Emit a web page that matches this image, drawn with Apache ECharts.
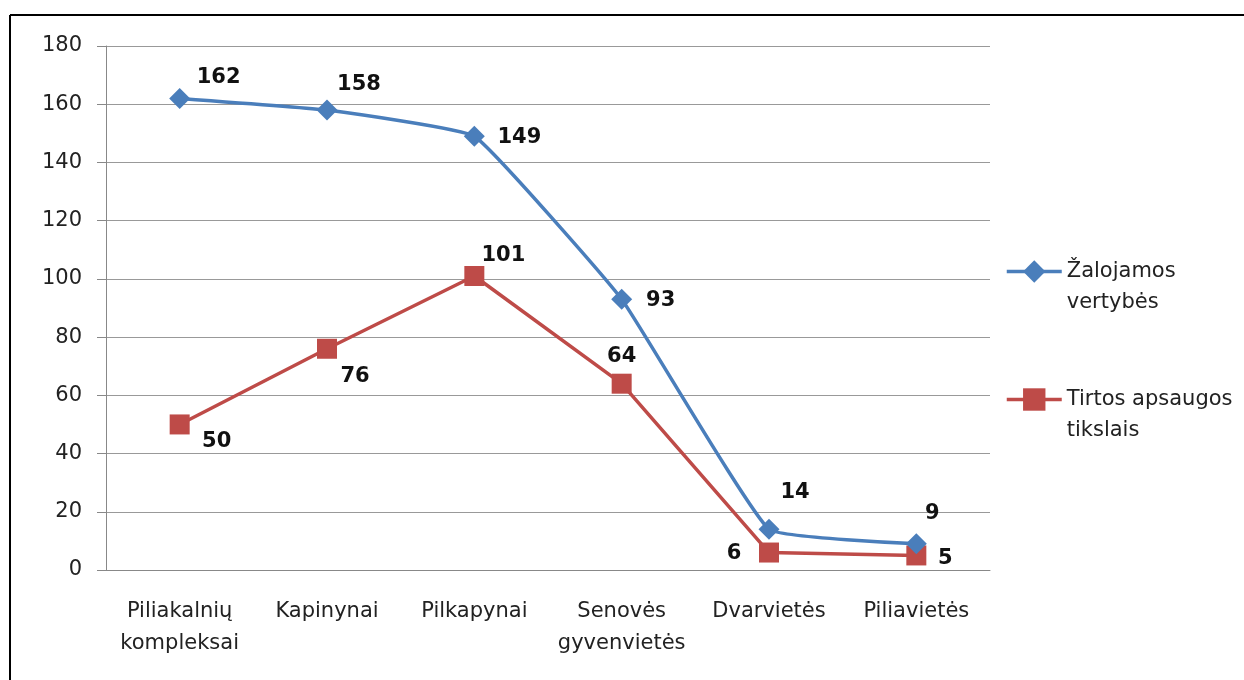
<!DOCTYPE html>
<html>
<head>
<meta charset="utf-8">
<script src="https://cdn.jsdelivr.net/npm/echarts@6/dist/echarts.min.js"></script>
<style>
  html, body { margin: 0; padding: 0; background: #fff; }
  #chart { width: 1244px; height: 680px; }
</style>
</head>
<body>
<div id="chart"></div>
<script>
var categories = ['Piliakalnių\nkompleksai', 'Kapinynai', 'Pilkapynai', 'Senovės\ngyvenvietės', 'Dvarvietės', 'Piliavietės'];
var zalojamos = [162, 158, 149, 93, 14, 9];
var tirtos = [50, 76, 101, 64, 6, 5];

// label offsets (px) from each point, so labels sit like in the original
var zalOffsets = [[39, -21], [32, -25], [45, 1], [39, 1], [26, -37], [16, -30]];
var tirOffsets = [[37, 17], [28, 28], [29, -20], [0, -27], [-35, 1], [29, 3]];

var font = '"DejaVu Sans", sans-serif';

function withLabels(values, offsets) {
  return values.map(function (v, i) {
    return {
      value: v,
      label: { offset: offsets[i] }
    };
  });
}

var chart = echarts.init(document.getElementById('chart'));

chart.setOption({
  animation: false,
  grid: {
    top: 46,
    left: 106,
    right: 254,
    bottom: 110
  },
  graphic: [
    { type: 'line', shape: { x1: 10, y1: 15, x2: 1244, y2: 15 }, style: { stroke: '#000', lineWidth: 2 } },
    { type: 'line', shape: { x1: 10, y1: 15, x2: 10, y2: 680 }, style: { stroke: '#000', lineWidth: 2 } }
  ],
  legend: {
    orient: 'vertical',
    left: 1005,
    top: 225,
    itemWidth: 55,
    itemHeight: 28,
    itemGap: 35,
    padding: 0,
    lineStyle: { width: 3.5 },
    // blank first line keeps the icon level with the first text line
    formatter: function (name) {
      if (name === 'Žalojamos vertybės') return '\u00a0\nŽalojamos\nvertybės';
      return '\u00a0\nTirtos apsaugos\ntikslais';
    },
    textStyle: {
      fontFamily: font,
      fontSize: 21,
      lineHeight: 31,
      color: '#222'
    }
  },
  xAxis: {
    type: 'category',
    data: categories,
    axisLine: { lineStyle: { color: '#888', width: 1 } },
    axisTick: { length: 7, lineStyle: { color: '#888' } },
    axisLabel: {
      fontFamily: font,
      fontSize: 21,
      lineHeight: 32,
      color: '#222',
      margin: 26,
      interval: 0
    }
  },
  yAxis: {
    type: 'value',
    min: 0,
    max: 180,
    interval: 20,
    axisLine: { show: true, lineStyle: { color: '#888', width: 1 } },
    axisTick: { show: true, inside: false, length: 9, lineStyle: { color: '#888' } },
    splitLine: { lineStyle: { color: '#999', width: 1 } },
    axisLabel: {
      fontFamily: font,
      fontSize: 21,
      color: '#222',
      margin: 24
    }
  },
  series: [
    {
      name: 'Žalojamos vertybės',
      type: 'line',
      smooth: 0.1,
      data: withLabels(zalojamos, zalOffsets),
      symbol: 'diamond',
      symbolSize: 21,
      itemStyle: { color: '#4a7ebb' },
      lineStyle: { color: '#4a7ebb', width: 3.5 },
      label: {
        show: true,
        position: 'inside',
        fontFamily: font,
        fontSize: 21,
        fontWeight: 'bold',
        color: '#111'
      },
      z: 3
    },
    {
      name: 'Tirtos apsaugos tikslais',
      type: 'line',
      data: withLabels(tirtos, tirOffsets),
      symbol: 'rect',
      symbolSize: 20,
      itemStyle: { color: '#be4b48' },
      lineStyle: { color: '#be4b48', width: 3.5 },
      label: {
        show: true,
        position: 'inside',
        fontFamily: font,
        fontSize: 21,
        fontWeight: 'bold',
        color: '#111'
      },
      z: 2
    }
  ]
});
</script>
</body>
</html>
